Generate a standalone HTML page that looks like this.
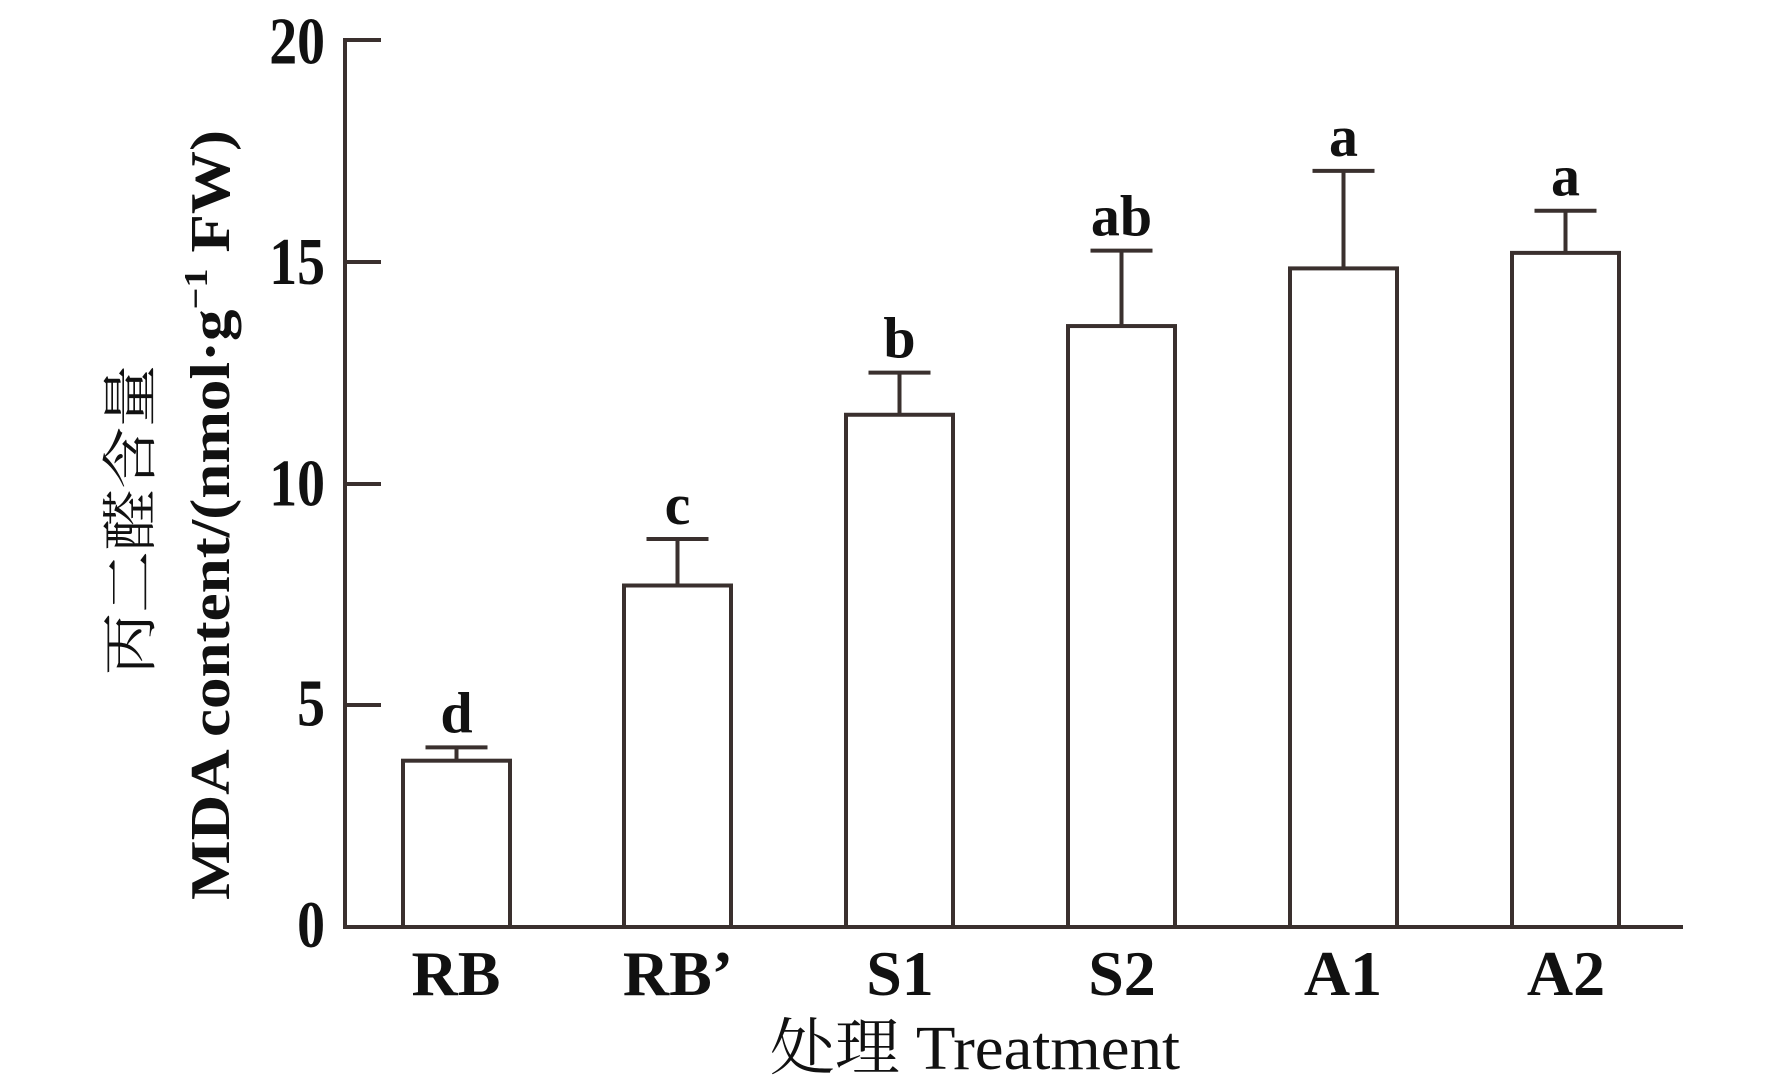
<!DOCTYPE html>
<html><head><meta charset="utf-8"><style>html,body{margin:0;padding:0;background:#fff}</style></head>
<body>
<svg width="1772" height="1083" viewBox="0 0 1772 1083" xmlns="http://www.w3.org/2000/svg">
<g stroke="#3a302e" stroke-width="4" fill="#fff">
<line x1="345" y1="38" x2="345" y2="929"/>
<line x1="343" y1="927" x2="1683" y2="927"/>
<line x1="345" y1="40" x2="381" y2="40"/>
<line x1="345" y1="262" x2="381" y2="262"/>
<line x1="345" y1="484" x2="381" y2="484"/>
<line x1="345" y1="705" x2="381" y2="705"/>
</g>
<g font-family="Liberation Serif, serif" font-size="62" font-weight="bold" fill="#111" text-anchor="end">
<text x="325" y="62" transform="translate(325,0) scale(0.9,1.08) translate(-325,-3)">20</text>
<text x="325" y="284" transform="translate(325,0) scale(0.9,1.08) translate(-325,-21)">15</text>
<text x="325" y="506" transform="translate(325,0) scale(0.9,1.08) translate(-325,-38)">10</text>
<text x="325" y="727" transform="translate(325,0) scale(0.9,1.08) translate(-325,-55)">5</text>
<text x="325" y="949" transform="translate(325,0) scale(0.9,1.08) translate(-325,-72)">0</text>
</g>
<g id="bars" stroke="#3a302e" stroke-width="4" fill="#fff"></g>
<g font-family="Liberation Serif, serif" font-size="58" font-weight="bold" fill="#111" text-anchor="middle" id="lbl"></g>
<g font-family="Liberation Serif, serif" font-size="64" font-weight="bold" fill="#111" text-anchor="middle">
<text x="456" y="995">RB</text><text x="678" y="995">RB’</text><text x="900" y="995">S1</text><text x="1122" y="995">S2</text><text x="1343" y="995">A1</text><text x="1566" y="995">A2</text>
</g>
<text x="975" y="1069" font-family="Liberation Serif, 'Noto Serif CJK SC', serif" font-size="62" fill="#111" text-anchor="middle" textLength="410" lengthAdjust="spacingAndGlyphs">处理 Treatment</text>
<text transform="translate(150,520) rotate(-90)" font-family="'Noto Serif CJK SC', serif" font-size="56" fill="#111" text-anchor="middle" textLength="310" lengthAdjust="spacingAndGlyphs">丙二醛含量</text>
<text transform="translate(229,515) rotate(-90)" font-family="Liberation Serif, serif" font-size="56" font-weight="bold" fill="#111" text-anchor="middle" textLength="770" lengthAdjust="spacingAndGlyphs">MDA content/(nmol·g<tspan dy="-22" font-size="34">−1</tspan><tspan dy="22"> FW)</tspan></text>
<script>
var d=[[403,3.75,4.05,'d'],[624,7.7,8.75,'c'],[846,11.55,12.5,'b'],[1068,13.55,15.25,'ab'],[1290,14.85,17.05,'a'],[1512,15.2,16.15,'a']];
var b=document.getElementById('bars'),l=document.getElementById('lbl'),ns='http://www.w3.org/2000/svg';
function y(v){return 927-v*44.35;}
d.forEach(function(r){var x=r[0],w=107,c=x+w/2;
var R=document.createElementNS(ns,'rect');R.setAttribute('x',x);R.setAttribute('y',y(r[1]));R.setAttribute('width',w);R.setAttribute('height',927-y(r[1]));b.appendChild(R);
var L=document.createElementNS(ns,'line');L.setAttribute('x1',c);L.setAttribute('x2',c);L.setAttribute('y1',y(r[1]));L.setAttribute('y2',y(r[2]));b.appendChild(L);
var C=document.createElementNS(ns,'line');C.setAttribute('x1',c-31);C.setAttribute('x2',c+31);C.setAttribute('y1',y(r[2]));C.setAttribute('y2',y(r[2]));b.appendChild(C);
var T=document.createElementNS(ns,'text');T.setAttribute('x',c);T.setAttribute('y',y(r[2])-15);T.textContent=r[3];l.appendChild(T);});
</script>
</svg>
</body></html>
